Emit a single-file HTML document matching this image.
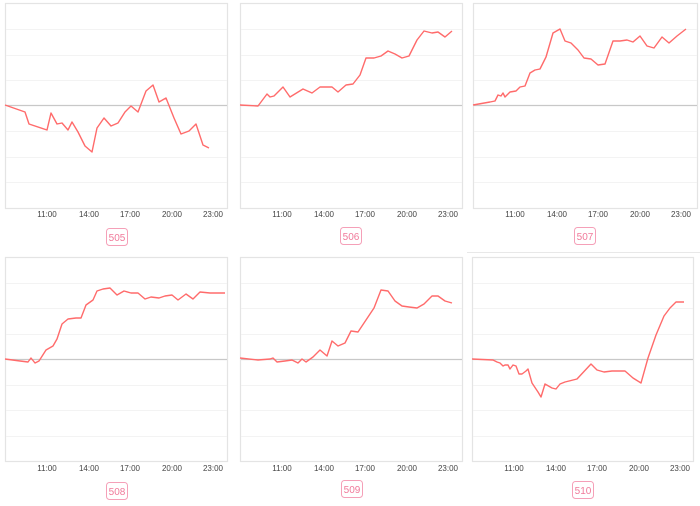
<!DOCTYPE html><html><head><style>body{margin:0;background:#fff}svg{display:block}text{font-family:"Liberation Sans",sans-serif}</style></head><body>
<svg width="700" height="506" xmlns="http://www.w3.org/2000/svg">
<g id="frames" fill="none" stroke="#e4e4e4" stroke-width="1.2">
<rect x="5.5" y="3.5" width="222" height="205"/>
<rect x="240.5" y="3.5" width="222" height="205"/>
<rect x="473.5" y="3.5" width="224" height="205"/>
<rect x="5.5" y="257.5" width="222" height="204"/>
<rect x="240.5" y="257.5" width="222" height="204"/>
<rect x="472.5" y="257.5" width="221" height="204"/>
</g>
<line x1="467" y1="252.5" x2="700" y2="252.5" stroke="#e8e8e8"/>
<g stroke="#f3f3f3" stroke-width="1">
<path d="M6 29.5H227M6 55.5H227M6 80.5H227M6 131.5H227M6 157.5H227M6 182.5H227"/>
<path d="M241 29.5H462M241 55.5H462M241 80.5H462M241 131.5H462M241 157.5H462M241 182.5H462"/>
<path d="M474 29.5H697M474 55.5H697M474 80.5H697M474 131.5H697M474 157.5H697M474 182.5H697"/>
<path d="M6 283.5H227M6 308.5H227M6 334.5H227M6 385.5H227M6 410.5H227M6 436.5H227"/>
<path d="M241 283.5H462M241 308.5H462M241 334.5H462M241 385.5H462M241 410.5H462M241 436.5H462"/>
<path d="M473 283.5H693M473 308.5H693M473 334.5H693M473 385.5H693M473 410.5H693M473 436.5H693"/>
</g>
<g stroke="#c8c8c8" stroke-width="1.2">
<path d="M6 105.5H227M241 105.5H462M474 105.5H697M6 359.5H227M241 359.5H462M473 359.5H693"/>
</g>
<g fill="none" stroke="#ff6b6b" stroke-width="1.4" stroke-linejoin="round">
<polyline points="5,105 25,112 29,124 47,130 51,113 57,124 62,123 68,130 72,122 78,132 85,146 92,152 97,128 104,118 111,126 118,123 125,112 131,106 138,112 146,91 153,85 159,102 166,98 174,118 181,134 189,131 196,124 203,145 209,148"/>
<polyline points="240,105 258,106 267,94 270,97 274,96 283,87 290,97 303,89 312,93 320,87 332,87 338,92 346,85 353,84 360,75 366,58 374,58 381,56 388,51 395,54 402,58 409,56 417,40 424,31 432,33 438,32 445,37 452,31"/>
<polyline points="473,105 490,102 495,101 498,95 501,96 503,93 505,97 510,92 516,91 520,87 525,86 530,73 535,70 540,69 546,57 553,33 560,29 565,41 571,43 578,50 584,58 591,59 598,65 605,64 613,41 620,41 627,40 633,42 640,36 647,46 654,48 662,37 669,43 677,36 686,29"/>
<polyline points="5,359 20,361 28,362 31,358 35,363 39,361 46,350 53,346 57,339 62,324 68,319 76,318 81,318 86,305 93,300 97,291 103,289 110,288 117,295 124,291 131,293 138,293 145,299 151,297 159,298 165,296 172,295 178,300 186,294 193,299 200,292 210,293 225,293"/>
<polyline points="240,358 258,360 270,359 273,358 277,362 285,361 292,360 298,363 302,359 306,362 313,357 320,350 327,356 332,341 338,346 345,343 351,331 358,332 366,320 374,308 381,290 388,291 395,301 402,306 409,307 417,308 424,304 432,296 438,296 445,301 452,303"/>
<polyline points="472,359 493,360 497,362 500,363 503,366 505,365 508,365 510,369 513,365 516,366 519,374 522,374 526,371 528,369 532,383 538,392 541,397 545,384 552,388 556,389 560,384 565,382 577,379 591,364 597,370 604,372 612,371 625,371 633,378 641,383 648,358 656,335 664,316 670,308 676,302 684,302"/>
</g>
<g font-size="8" fill="#444" text-anchor="middle">
<g transform="translate(0,217)"><text x="47">11:00</text><text x="89">14:00</text><text x="130">17:00</text><text x="172">20:00</text><text x="213">23:00</text></g>
<g transform="translate(235,217)"><text x="47">11:00</text><text x="89">14:00</text><text x="130">17:00</text><text x="172">20:00</text><text x="213">23:00</text></g>
<g transform="translate(468,217)"><text x="47">11:00</text><text x="89">14:00</text><text x="130">17:00</text><text x="172">20:00</text><text x="213">23:00</text></g>
<g transform="translate(0,471)"><text x="47">11:00</text><text x="89">14:00</text><text x="130">17:00</text><text x="172">20:00</text><text x="213">23:00</text></g>
<g transform="translate(235,471)"><text x="47">11:00</text><text x="89">14:00</text><text x="130">17:00</text><text x="172">20:00</text><text x="213">23:00</text></g>
<g transform="translate(467,471)"><text x="47">11:00</text><text x="89">14:00</text><text x="130">17:00</text><text x="172">20:00</text><text x="213">23:00</text></g>
</g>
<g fill="#fff" stroke="#f5a0b8" stroke-width="1">
<rect x="106.5" y="228.5" width="21" height="17" rx="3"/>
<rect x="340.5" y="227.5" width="21" height="17" rx="3"/>
<rect x="574.5" y="227.5" width="21" height="17" rx="3"/>
<rect x="106.5" y="482.5" width="21" height="17" rx="3"/>
<rect x="341.5" y="480.5" width="21" height="17" rx="3"/>
<rect x="572.5" y="481.5" width="21" height="17" rx="3"/>
</g>
<g font-size="10" fill="#f07a9a" text-anchor="middle">
<text x="117" y="241">505</text><text x="351" y="240">506</text><text x="585" y="240">507</text>
<text x="117" y="495">508</text><text x="352" y="493">509</text><text x="583" y="494">510</text>
</g>
</svg>
</body></html>
